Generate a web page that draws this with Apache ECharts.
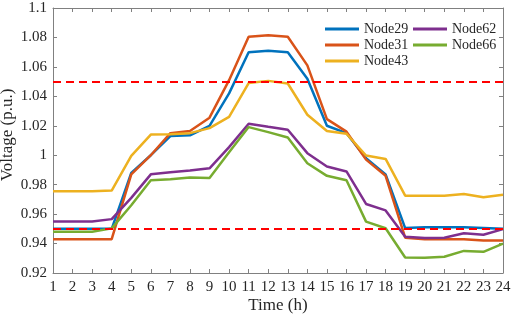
<!DOCTYPE html>
<html>
<head>
<meta charset="utf-8">
<script src="https://cdn.jsdelivr.net/npm/echarts@6/dist/echarts.min.js"></script>
<style>
html, body { margin: 0; padding: 0; background: #fff; }
#chart { width: 512px; height: 317px; }
</style>
</head>
<body>
<div id="chart"></div>
<script>
// hours on the x axis
var hours = [1, 2, 3, 4, 5, 6, 7, 8, 9, 10, 11, 12, 13, 14, 15, 16, 17, 18, 19, 20, 21, 22, 23, 24];

// node voltages (p.u.)
var node29 = [0.950, 0.950, 0.950, 0.950, 0.988, 1.000, 1.013, 1.0135, 1.020, 1.042, 1.070, 1.071, 1.070, 1.052, 1.020, 1.015, 0.998, 0.987, 0.9505, 0.951, 0.951, 0.951, 0.9505, 0.950];
var node31 = [0.943, 0.943, 0.943, 0.943, 0.987, 1.000, 1.015, 1.0165, 1.0255, 1.051, 1.0805, 1.0815, 1.0805, 1.061, 1.0245, 1.016, 0.997, 0.986, 0.944, 0.943, 0.943, 0.943, 0.942, 0.942];
var node43 = [0.9755, 0.9755, 0.9755, 0.976, 0.9995, 1.014, 1.0143, 1.015, 1.0184, 1.026, 1.049, 1.0505, 1.0487, 1.0275, 1.0164, 1.0146, 0.9998, 0.9975, 0.9725, 0.9725, 0.9725, 0.9737, 0.9714, 0.9732];
var node62 = [0.955, 0.955, 0.955, 0.9566, 0.971, 0.987, 0.9884, 0.9896, 0.9911, 1.0055, 1.0214, 1.0193, 1.0173, 1.0014, 0.9923, 0.989, 0.9669, 0.9625, 0.9446, 0.9438, 0.944, 0.947, 0.946, 0.9498];
var node66 = [0.948, 0.948, 0.948, 0.9503, 0.966, 0.983, 0.9836, 0.9848, 0.9846, 1.002, 1.0191, 1.0157, 1.012, 0.9945, 0.986, 0.983, 0.9549, 0.9504, 0.9305, 0.9303, 0.931, 0.935, 0.9344, 0.940];

// voltage limits (dashed red)
var limits = [1.05, 0.95];

var yTicks = [0.92, 1.1, 0.02];
var serif = 'Liberation Serif';
var textColor = '#262626';
var axisColor = '#808080';

function pairs(vals) {
	return hours.map(function(h, i) { return [h, vals[i]]; });
}

var names = ['Node29', 'Node31', 'Node43', 'Node62', 'Node66'];
var colors = ['#0072BD', '#D95319', '#EDB120', '#7E2F8E', '#77AC30'];
var values = [node29, node31, node43, node62, node66];

var series = names.map(function(n, i) {
	return {
		name: n,
		type: 'line',
		data: pairs(values[i]),
		symbol: 'none',
		color: colors[i],
		lineStyle: { width: 2.5, color: colors[i] },
		animation: false
	};
});
// dashed limit lines on top of everything
series.push({
	name: 'limits',
	type: 'line',
	data: [],
	z: 10,
	markLine: {
		silent: true,
		symbol: 'none',
		label: { show: false },
		lineStyle: { color: '#ff0000', type: [8, 5], width: 2 },
		data: limits.map(function(v) { return { yAxis: v }; })
	},
	animation: false
});

var legendBase = {
	orient: 'vertical',
	itemWidth: 34,
	itemHeight: 3,
	itemGap: 0,
	icon: 'rect',
	textStyle: { fontFamily: serif, fontSize: 14, color: textColor, lineHeight: 16 },
	padding: 0
};

var chart = echarts.init(document.getElementById('chart'));
chart.setOption({
	backgroundColor: '#fff',
	animation: false,
	grid: { left: 53, right: 9, top: 8, bottom: 44, outerBoundsMode: 'none', containLabel: false },
	legend: [
		Object.assign({}, legendBase, { data: ['Node29', 'Node31', 'Node43'], left: 325, top: 21 }),
		Object.assign({}, legendBase, { data: ['Node62', 'Node66'], left: 413, top: 21 })
	],
	xAxis: [{
		type: 'value',
		min: 1, max: 24, interval: 1,
		name: 'Time (h)',
		nameLocation: 'middle',
		nameGap: 24,
		nameMoveOverlap: false,
		nameTextStyle: { fontFamily: serif, fontSize: 17, color: textColor },
		axisLine: { lineStyle: { color: axisColor, width: 1 } },
		axisTick: { inside: true, length: 4, lineStyle: { color: axisColor } },
		axisLabel: { fontFamily: serif, fontSize: 15, color: textColor, margin: 7 },
		splitLine: { show: false }
	}, {
		type: 'value', position: 'top',
		min: 1, max: 24, interval: 1,
		axisLine: { show: true, lineStyle: { color: axisColor, width: 1 } },
		axisTick: { inside: true, length: 4, lineStyle: { color: axisColor } },
		axisLabel: { show: false },
		splitLine: { show: false }
	}],
	yAxis: [{
		type: 'value',
		min: yTicks[0], max: yTicks[1], interval: yTicks[2],
		name: 'Voltage (p.u.)',
		nameLocation: 'middle',
		nameGap: 37,
		nameMoveOverlap: false,
		nameTextStyle: { fontFamily: serif, fontSize: 17, color: textColor, padding: [0, 0, 0, 11] },
		axisLine: { show: true, lineStyle: { color: axisColor, width: 1 } },
		axisTick: { show: true, inside: true, length: 4, lineStyle: { color: axisColor } },
		axisLabel: {
			fontFamily: serif, fontSize: 15, color: textColor, margin: 6,
			formatter: function(v) { return String(parseFloat(v.toFixed(2))); }
		},
		splitLine: { show: false }
	}, {
		type: 'value', position: 'right',
		min: yTicks[0], max: yTicks[1], interval: yTicks[2],
		axisLine: { show: true, lineStyle: { color: axisColor, width: 1 } },
		axisTick: { show: true, inside: true, length: 4, lineStyle: { color: axisColor } },
		axisLabel: { show: false },
		splitLine: { show: false }
	}],
	series: series
});
</script>
</body>
</html>
